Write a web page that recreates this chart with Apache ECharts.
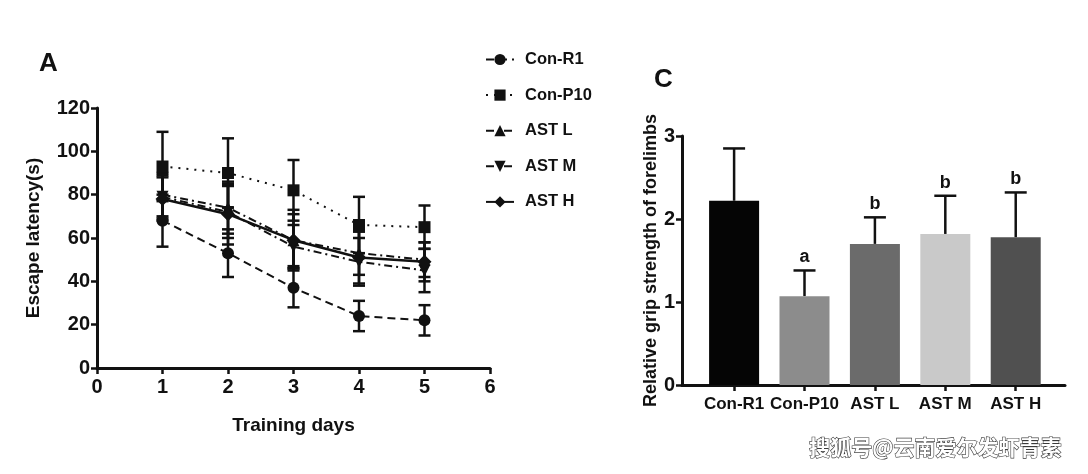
<!DOCTYPE html>
<html>
<head>
<meta charset="utf-8">
<script src="https://cdn.jsdelivr.net/npm/echarts@6/dist/echarts.min.js"></script>
<style>
html,body{margin:0;padding:0;background:#fff;}
#main{width:1088px;height:474px;}
</style>
</head>
<body>
<div id="main"></div>
<script>
// ---- Panel A data: escape latency (s) by training day ----
var days = [1, 2, 3, 4, 5];
var conR1 = [68, 53, 37, 24, 22];
var conP10 = [93, 90, 82, 66, 65];
var astL = [80, 74, 59, 53, 50];
var astM = [79, 72, 56, 49, 45];
var astH = [78, 71, 59, 51, 49];
var errConR1 = [12, 11, 9, 7, 7];
var errConP10 = [16, 16, 14, 13, 10];
var errAstL = [10, 12, 14, 10, 8];
var errAstM = [10, 12, 10, 11, 10];
var errAstH = [10, 14, 12, 12, 9];
var groupNames = ['Con-R1', 'Con-P10', 'AST L', 'AST M', 'AST H'];

// ---- Panel C data: relative grip strength of forelimbs ----
var barCategories = ['Con-R1', 'Con-P10', 'AST L', 'AST M', 'AST H'];
var gripValues = [2.22, 1.07, 1.70, 1.82, 1.78];
var gripErrors = [0.63, 0.31, 0.32, 0.46, 0.54];
var gripLetters = ['', 'a', 'b', 'b', 'b'];
var barColors = ['#050505', '#8c8c8c', '#6b6b6b', '#c9c9c9', '#505050'];

var FONT = 'Liberation Sans, Arial, sans-serif';

var lineDefs = [
  {name: groupNames[0], y: conR1, e: errConR1, symbol: 'circle', rot: 0, type: [8, 5]},
  {name: groupNames[1], y: conP10, e: errConP10, symbol: 'rect', rot: 0, type: [2, 6]},
  {name: groupNames[2], y: astL, e: errAstL, symbol: 'triangle', rot: 0, type: [8, 4, 2, 4]},
  {name: groupNames[3], y: astM, e: errAstM, symbol: 'triangle', rot: 180, type: [8, 4, 2, 4]},
  {name: groupNames[4], y: astH, e: errAstH, symbol: 'diamond', rot: 0, type: 'solid'}
];

function errorBarRender(capHalf) {
  return function (params, api) {
    var x = api.value(0), lo = api.value(1), hi = api.value(2);
    var pLo = api.coord([x, lo]), pHi = api.coord([x, hi]);
    var st = {stroke: '#111', lineWidth: 2.5};
    return {
      type: 'group',
      children: [
        {type: 'line', shape: {x1: pLo[0], y1: pLo[1], x2: pHi[0], y2: pHi[1]}, style: st},
        {type: 'line', shape: {x1: pLo[0] - capHalf, y1: pLo[1], x2: pLo[0] + capHalf, y2: pLo[1]}, style: st},
        {type: 'line', shape: {x1: pHi[0] - capHalf, y1: pHi[1], x2: pHi[0] + capHalf, y2: pHi[1]}, style: st}
      ]
    };
  };
}

var series = [];
lineDefs.forEach(function (d) {
  var errData = days.map(function (x, i) { return [x, d.y[i] - d.e[i], d.y[i] + d.e[i]]; });
  series.push({
    type: 'custom', xAxisIndex: 0, yAxisIndex: 0, z: 1,
    renderItem: errorBarRender(6), data: errData, silent: true
  });
});
lineDefs.forEach(function (d) {
  series.push({
    name: d.name, type: 'line', xAxisIndex: 0, yAxisIndex: 0, z: 3,
    data: days.map(function (x, i) { return [x, d.y[i]]; }),
    symbol: d.symbol, symbolRotate: d.rot,
    symbolSize: d.symbol === 'rect' ? 12 : (d.symbol === 'diamond' ? 14 : 12),
    lineStyle: {color: '#111', width: d.type === 'solid' ? 2.5 : 2, type: d.type},
    itemStyle: {color: '#111'},
    animation: false
  });
});

// Panel C bars
series.push({
  type: 'bar', xAxisIndex: 1, yAxisIndex: 1, barWidth: 50, z: 2,
  data: barCategories.map(function (c, i) {
    return {value: [i, gripValues[i]], itemStyle: {color: barColors[i]}};
  }),
  animation: false
});
series.push({
  type: 'custom', xAxisIndex: 1, yAxisIndex: 1, z: 1, silent: true,
  data: barCategories.map(function (c, i) { return [i, gripValues[i], gripValues[i] + gripErrors[i], i]; }),
  renderItem: function (params, api) {
    var x = api.value(0), lo = api.value(1), hi = api.value(2), idx = api.value(3);
    var pLo = api.coord([x, lo]), pHi = api.coord([x, hi]);
    var st = {stroke: '#111', lineWidth: 2.5};
    var kids = [
      {type: 'line', shape: {x1: pLo[0], y1: pLo[1], x2: pHi[0], y2: pHi[1]}, style: st},
      {type: 'line', shape: {x1: pHi[0] - 11, y1: pHi[1], x2: pHi[0] + 11, y2: pHi[1]}, style: st}
    ];
    if (gripLetters[idx]) {
      kids.push({type: 'text', x: pHi[0], y: pHi[1] - 4, style: {text: gripLetters[idx], fill: '#111', font: 'bold 18px ' + FONT, align: 'center', verticalAlign: 'bottom'}});
    }
    return {type: 'group', children: kids};
  }
});

var tickLabel = {color: '#111', fontSize: 20, fontWeight: 'bold', fontFamily: FONT};
var axisLine = {show: true, onZero: false, lineStyle: {color: '#111', width: 3}};
var axisTick = {show: true, length: 6, lineStyle: {color: '#111', width: 2.5}};
var nameStyle = {color: '#111', fontSize: 19, fontWeight: 'bold', fontFamily: FONT};

var option = {
  backgroundColor: '#fff',
  animation: false,
  grid: [
    {left: 97, top: 108, width: 393, height: 260, containLabel: false},
    {left: 682, top: 136, width: 383, height: 249, containLabel: false}
  ],
  xAxis: [
    {
      gridIndex: 0, type: 'value', min: 0, max: 6, interval: 1,
      axisLine: axisLine, axisTick: axisTick, splitLine: {show: false},
      axisLabel: Object.assign({margin: 9}, tickLabel),
      name: 'Training days', nameLocation: 'middle', nameGap: 48,
      nameTextStyle: nameStyle
    },
    {
      gridIndex: 1, type: 'value', min: -0.74, max: 4.7,
      axisLine: axisLine, splitLine: {show: false},
      axisTick: Object.assign({customValues: [0, 1, 2, 3, 4]}, axisTick),
      axisLabel: Object.assign({}, tickLabel, {
        fontSize: 17, margin: 11, customValues: [0, 1, 2, 3, 4],
        formatter: function (v) { return barCategories[Math.round(v)]; }
      })
    }
  ],
  yAxis: [
    {
      gridIndex: 0, type: 'value', min: 0, max: 120, interval: 20,
      axisLine: axisLine, axisTick: axisTick, splitLine: {show: false},
      axisLabel: Object.assign({margin: 7}, tickLabel),
      name: 'Escape latency(s)', nameLocation: 'middle', nameGap: 54, nameRotate: 90,
      nameTextStyle: nameStyle
    },
    {
      gridIndex: 1, type: 'value', min: 0, max: 3, interval: 1,
      axisLine: axisLine, axisTick: axisTick, splitLine: {show: false},
      axisLabel: Object.assign({margin: 7}, tickLabel),
      name: 'Relative grip strength of forelimbs', nameLocation: 'middle', nameGap: 22, nameRotate: 90,
      nameTextStyle: Object.assign({}, nameStyle, {fontSize: 18})
    }
  ],
  legend: {
    orient: 'vertical', left: 480, top: 46, itemWidth: 28, itemHeight: 14, itemGap: 18.6,
    data: groupNames,
    textStyle: {color: '#111', fontSize: 16.5, fontWeight: 'bold', fontFamily: FONT, padding: [0, 0, 0, 6]},
    inactiveColor: '#111', selectedMode: false
  },
  graphic: [
    {type: 'text', left: 39, top: 51, style: {text: 'A', fill: '#111', font: 'bold 26px ' + FONT}},
    {type: 'text', left: 654, top: 67, style: {text: 'C', fill: '#111', font: 'bold 26px ' + FONT}},
    {type: 'text', right: 26, top: 436, style: {
      text: '搜狐号@云南爱尔发虾青素', fill: '#ffffff', stroke: '#3a3a3a', lineWidth: 1.2,
      font: 'bold 21px "Noto Sans CJK SC", sans-serif'
    }}
  ],
  series: series
};

var chart = echarts.init(document.getElementById('main'), null, {renderer: 'canvas'});
chart.setOption(option);
</script>
</body>
</html>
